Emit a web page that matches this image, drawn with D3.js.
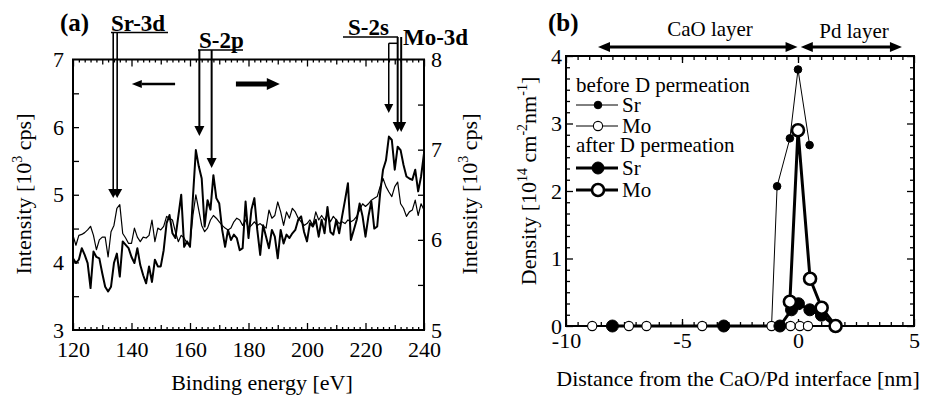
<!DOCTYPE html>
<html>
<head>
<meta charset="utf-8">
<script src="https://cdn.jsdelivr.net/npm/d3@7"></script>
<style>
body { margin: 0; background: #fff; }
svg, svg text { font-family: "Liberation Serif", "Times New Roman", "DejaVu Serif", serif; }
</style>
</head>
<body>
<svg id="chart" width="928" height="396" font-family="Liberation Serif, Times New Roman, DejaVu Serif, serif"></svg>
<script>
// ---- panel (a): XPS spectra, 1 eV steps from 120 eV ----
const energies = d3.range(120, 241, 1);
// bold trace, left axis [10^3 cps]
const spectrumBold = [
  4.06, 3.99, 4.04, 4.21, 4.11, 3.99, 3.62, 4.16, 4.08, 4.06,
  3.84, 3.64, 3.57, 3.64, 3.99, 4.13, 3.79, 4.31, 4.26, 4.21,
  4.08, 3.99, 4.21, 3.96, 3.81, 3.69, 3.94, 3.71, 4.04, 3.94,
  3.94, 4.18, 4.58, 4.70, 4.43, 4.36, 4.68, 5.00, 4.23, 4.31,
  4.23, 4.96, 5.66, 5.42, 5.24, 4.53, 4.92, 4.78, 5.29, 4.95,
  4.87, 4.48, 4.23, 4.48, 4.33, 4.41, 4.36, 4.18, 4.21, 4.90,
  4.36, 4.78, 4.95, 4.48, 4.11, 4.55, 4.38, 4.21, 4.48, 4.38,
  4.06, 4.48, 4.28, 4.41, 4.36, 4.43, 4.48, 4.63, 4.68, 4.45,
  4.31, 4.58, 4.53, 4.63, 4.38, 4.63, 4.43, 4.82, 4.45, 4.41,
  4.63, 4.43, 4.68, 4.92, 5.17, 4.33, 4.48, 4.63, 4.87, 4.68,
  4.38, 4.68, 4.90, 4.50, 4.53, 5.02, 5.37, 5.51, 5.86, 5.81,
  5.37, 5.71, 5.66, 5.44, 5.27, 5.24, 5.22, 5.37, 5.05, 5.27, 5.61
];
// thin trace, right axis [10^3 cps]
const spectrumThin = [
  6.05, 5.94, 6.05, 6.06, 6.08, 6.11, 6.15, 6.05, 5.89, 6.00,
  6.03, 6.03, 5.81, 6.09, 6.16, 6.35, 6.39, 6.07, 6.02, 5.96,
  5.96, 6.13, 6.03, 5.98, 6.03, 6.02, 6.05, 6.22, 5.98, 6.13,
  6.11, 6.15, 6.26, 6.24, 6.22, 6.09, 5.98, 6.05, 6.02, 5.96,
  5.94, 6.27, 6.50, 6.33, 6.16, 6.09, 6.13, 6.22, 6.27, 6.24,
  6.20, 6.16, 6.13, 6.11, 6.13, 6.20, 6.24, 6.22, 6.16, 6.22,
  6.13, 6.16, 6.20, 6.16, 6.18, 6.15, 6.13, 6.33, 6.24, 6.27,
  6.42, 6.31, 6.16, 6.31, 6.24, 6.35, 6.31, 6.24, 6.20, 6.16,
  6.18, 6.22, 6.16, 6.31, 6.22, 6.27, 6.22, 6.29, 6.20, 6.26,
  6.22, 6.18, 6.20, 6.18, 6.22, 6.20, 6.22, 6.26, 6.33, 6.40,
  6.37, 6.40, 6.44, 6.46, 6.48, 6.59, 6.68, 6.59, 6.53, 6.48,
  6.59, 6.64, 6.40, 6.35, 6.26, 6.31, 6.33, 6.44, 6.27, 6.40, 6.33
];
const xTicksA = [120, 140, 160, 180, 200, 220, 240];
const yTicksLeftA = [3, 4, 5, 6, 7];
const yTicksRightA = [5, 6, 7, 8];

// ---- panel (b): density profiles [x nm, density] ----
const srBefore = [[-1.14, 0], [-0.9, 2.07], [-0.35, 2.78], [0, 3.8], [0.5, 2.68]];
const moBefore = [[-8.87, 0], [-7.29, 0], [-6.53, 0], [-4.13, 0], [-1.14, 0], [-0.32, 0], [0.08, 0], [0.43, 0]];
const srAfter = [[-8.0, 0], [-3.2, 0], [-0.78, 0], [-0.28, 0.24], [0.02, 0.33], [0.51, 0.24], [1.01, 0.16], [1.62, 0]];
const moAfter = [[-0.35, 0.36], [0, 2.9], [0.52, 0.7], [1.02, 0.27], [1.62, 0]];
const xTicksB = [-10, -5, 0, 5];
const yTicksB = [0, 1, 2, 3, 4];

const SERIF = '"Liberation Serif", "Times New Roman", "DejaVu Serif", serif';

function translate(x, y) {
    return `translate(${x}, ${y})`;
}

const svg = d3.select('#chart');
const FS = 22;

function head(g, tx, ty, dir, len, half) {
    let pts;
    if (dir === 'down') pts = [[tx, ty], [tx - half, ty - len], [tx + half, ty - len]];
    else if (dir === 'left') pts = [[tx, ty], [tx + len, ty - half], [tx + len, ty + half]];
    else pts = [[tx, ty], [tx - len, ty - half], [tx - len, ty + half]];
    g.append('path').attr('d', d3.line()(pts) + 'Z').attr('fill', '#000');
}

function seg(g, x1, y1, x2, y2, w) {
    g.append('line').attr('x1', x1).attr('y1', y1).attr('x2', x2).attr('y2', y2)
        .attr('stroke', '#000').attr('stroke-width', w);
}

function clean(sel) {
    sel.attr('font-family', SERIF);
    sel.select('.domain').remove();
    sel.selectAll('line').attr('stroke', '#000').attr('stroke-width', 1.3);
    sel.selectAll('text').attr('font-size', FS).attr('fill', '#000');
    return sel;
}

function label(g, x, y, txt, size, anchor) {
    return g.append('text').attr('x', x).attr('y', y).attr('font-size', size)
        .attr('font-family', SERIF).attr('text-anchor', anchor || 'start').text(txt);
}

const fmt = d => String(d);

// ================= panel (a) =================
const A = { left: 73, right: 424, top: 59.5, bottom: 330 };
const xa = d3.scaleLinear().domain([120, 240]).range([A.left, A.right]);
const yaL = d3.scaleLinear().domain([3, 7]).range([A.bottom, A.top]);
const yaR = d3.scaleLinear().domain([5, 8]).range([A.bottom, A.top]);

const ga = svg.append('g');

// minor ticks
const minorX = d3.range(122, 240, 2).filter(v => v % 10 !== 0);
const midX = d3.range(130, 240, 20);
[[minorX, 3], [midX, 5]].forEach(([vals, s]) => {
    clean(ga.append('g').attr('transform', translate(0, A.bottom))
        .call(d3.axisBottom(xa).tickValues(vals).tickSize(-s).tickSizeOuter(0).tickFormat('')));
    clean(ga.append('g').attr('transform', translate(0, A.top))
        .call(d3.axisTop(xa).tickValues(vals).tickSize(-s).tickSizeOuter(0).tickFormat('')));
});
clean(ga.append('g').attr('transform', translate(0, A.bottom))
    .call(d3.axisBottom(xa).tickValues(xTicksA).tickSize(-7).tickSizeOuter(0).tickPadding(11).tickFormat(fmt)));
clean(ga.append('g').attr('transform', translate(0, A.top))
    .call(d3.axisTop(xa).tickValues(xTicksA).tickSize(-7).tickSizeOuter(0).tickFormat('')));
clean(ga.append('g').attr('transform', translate(A.left, 0))
    .call(d3.axisLeft(yaL).tickValues(d3.range(3.5, 7, 0.5)).tickSize(-6).tickSizeOuter(0).tickFormat('')));
clean(ga.append('g').attr('transform', translate(A.left, 0))
    .call(d3.axisLeft(yaL).tickValues(yTicksLeftA).tickSize(0).tickPadding(9).tickFormat(fmt)));
clean(ga.append('g').attr('transform', translate(A.right, 0))
    .call(d3.axisRight(yaR).tickValues(d3.range(5.5, 8, 0.5)).tickSize(-6).tickSizeOuter(0).tickFormat('')));
clean(ga.append('g').attr('transform', translate(A.right, 0))
    .call(d3.axisRight(yaR).tickValues(yTicksRightA).tickSize(0).tickPadding(7).tickFormat(fmt)))
    .selectAll('text').attr('text-anchor', 'start');

// spectra
ga.append('path').datum(spectrumThin)
    .attr('d', d3.line().x((d, i) => xa(energies[i])).y(d => yaR(d)))
    .attr('fill', 'none').attr('stroke', '#000').attr('stroke-width', 1.2).attr('stroke-linejoin', 'round');
ga.append('path').datum(spectrumBold)
    .attr('d', d3.line().x((d, i) => xa(energies[i])).y(d => yaL(d)))
    .attr('fill', 'none').attr('stroke', '#000').attr('stroke-width', 2).attr('stroke-linejoin', 'round');

ga.append('rect').attr('x', A.left).attr('y', A.top)
    .attr('width', A.right - A.left).attr('height', A.bottom - A.top)
    .attr('fill', 'none').attr('stroke', '#000').attr('stroke-width', 2);

// axis titles
label(ga, 262, 390, 'Binding energy [eV]', FS, 'middle');
function intensityLabel(x, y) {
    const t = ga.append('text').attr('transform', translate(x, y) + ' rotate(-90)')
        .attr('text-anchor', 'middle').attr('font-size', FS).attr('font-family', SERIF);
    t.append('tspan').text('Intensity [10');
    t.append('tspan').attr('dy', -9).attr('font-size', 14).text('3');
    t.append('tspan').attr('dy', 9).text(' cps]');
}
intensityLabel(31, 194);
intensityLabel(477, 194);

label(ga, 60, 31, '(a)', 25).attr('font-weight', 'bold');

// peak annotations
function peakLabel(txt, x, y, ux1, ux2) {
    label(ga, x, y, txt, 23).attr('font-weight', 'bold');
    seg(ga, ux1, y + 2, ux2, y + 2, 1.5);
}
peakLabel('Sr-3d', 111, 30.5, 111, 168);
[133.75, 135.1].forEach(e => {
    seg(ga, xa(e), 32.5, xa(e), 191, 1.6);
    head(ga, xa(e), 198, 'down', 9, 5);
});
peakLabel('S-2p', 199, 48, 198, 243);
seg(ga, xa(163.2), 50, xa(163.2), 128, 2);
head(ga, xa(163.2), 136, 'down', 10, 5);
seg(ga, xa(167.4), 50, xa(167.4), 160, 2);
head(ga, xa(167.4), 168, 'down', 10, 5);
peakLabel('S-2s', 348, 35, 343, 398);
seg(ga, xa(227.95), 43.3, 398, 43.3, 1.5);
seg(ga, xa(227.95), 43.3, xa(227.95), 106, 1.5);
head(ga, xa(227.95), 113, 'down', 9, 4.5);
label(ga, 403, 44.5, 'Mo-3d', 23).attr('font-weight', 'bold');
[231.0, 232.2].forEach(e => {
    seg(ga, xa(e), 37, xa(e), 124, 2);
    head(ga, xa(e), 132, 'down', 10, 5);
});
// direction arrows
seg(ga, xa(154.9), 84, xa(143.5), 84, 2.5);
head(ga, xa(140.1), 84, 'left', 10, 4);
seg(ga, xa(175.7), 84, xa(187), 84, 5);
head(ga, xa(190.7), 84, 'right', 13, 6);

// ================= panel (b) =================
const B = { left: 566, right: 914, top: 56, bottom: 326 };
const xb = d3.scaleLinear().domain([-10, 5]).range([B.left, B.right]);
const yb = d3.scaleLinear().domain([0, 4]).range([B.bottom, B.top]);
const gb = svg.append('g');

const minorXB = d3.range(-9.5, 5, 0.5);
const minorYB = d3.range(1, 24).map(i => i / 6).filter(v => Math.abs(v - Math.round(v)) > 1e-6);
clean(gb.append('g').attr('transform', translate(0, B.bottom))
    .call(d3.axisBottom(xb).tickValues(minorXB).tickSize(-4).tickSizeOuter(0).tickFormat('')));
clean(gb.append('g').attr('transform', translate(0, B.top))
    .call(d3.axisTop(xb).tickValues(minorXB).tickSize(-4).tickSizeOuter(0).tickFormat('')));
clean(gb.append('g').attr('transform', translate(0, B.bottom))
    .call(d3.axisBottom(xb).tickValues(xTicksB).tickSize(-7).tickSizeOuter(0).tickPadding(6).tickFormat(fmt)));
clean(gb.append('g').attr('transform', translate(0, B.top))
    .call(d3.axisTop(xb).tickValues(xTicksB).tickSize(-7).tickSizeOuter(0).tickFormat('')));
clean(gb.append('g').attr('transform', translate(B.left, 0))
    .call(d3.axisLeft(yb).tickValues(minorYB).tickSize(-4).tickSizeOuter(0).tickFormat('')));
clean(gb.append('g').attr('transform', translate(B.right, 0))
    .call(d3.axisRight(yb).tickValues(minorYB).tickSize(-4).tickSizeOuter(0).tickFormat('')));
clean(gb.append('g').attr('transform', translate(B.left, 0))
    .call(d3.axisLeft(yb).tickValues(yTicksB).tickSize(-7).tickSizeOuter(0).tickPadding(4).tickFormat(fmt)));
clean(gb.append('g').attr('transform', translate(B.right, 0))
    .call(d3.axisRight(yb).tickValues(yTicksB).tickSize(-7).tickSizeOuter(0).tickFormat('')));

const lineB = d3.line().x(d => xb(d[0])).y(d => yb(d[1]));
const series = [
    { data: srBefore, w: 1, r: 3.8, fill: '#000', sw: 1 },
    { data: moBefore, w: 1, r: 4.6, fill: '#fff', sw: 1.1 },
    { data: srAfter, w: 3, r: 6, fill: '#000', sw: 1 },
    { data: moAfter, w: 3, r: 6, fill: '#fff', sw: 2.6 }
];
series.forEach(s => {
    gb.append('path').datum(s.data).attr('d', lineB)
        .attr('fill', 'none').attr('stroke', '#000').attr('stroke-width', s.w).attr('stroke-linejoin', 'round');
});
gb.append('rect').attr('x', B.left).attr('y', B.top)
    .attr('width', B.right - B.left).attr('height', B.bottom - B.top)
    .attr('fill', 'none').attr('stroke', '#000').attr('stroke-width', 2);
series.forEach(s => {
    gb.append('g').selectAll('circle').data(s.data).enter().append('circle')
        .attr('cx', d => xb(d[0])).attr('cy', d => yb(d[1])).attr('r', s.r)
        .attr('fill', s.fill).attr('stroke', '#000').attr('stroke-width', s.sw);
});

// legend
const legend = gb.append('g');
label(legend, 576, 92, 'before D permeation', 21);
label(legend, 576, 152, 'after D permeation', 21);
const legendRows = [
    { label: 'Sr', y: 105, s: series[0] },
    { label: 'Mo', y: 126, s: series[1] },
    { label: 'Sr', y: 168, s: series[2] },
    { label: 'Mo', y: 190, s: series[3] }
];
legendRows.forEach(d => {
    seg(legend, 576, d.y, 618, d.y, d.s.w);
    legend.append('circle').attr('cx', 598).attr('cy', d.y).attr('r', d.s.r)
        .attr('fill', d.s.fill).attr('stroke', '#000').attr('stroke-width', d.s.sw);
    label(legend, 622, d.y + 7, d.label, 21);
});

// layer arrows
function doubleArrow(g, x1, x2, y) {
    seg(g, x1 + 10, y, x2 - 10, y, 3);
    head(g, x1, y, 'left', 12, 5);
    head(g, x2, y, 'right', 12, 5);
}
doubleArrow(gb, xb(-8.62), xb(-0.02), 47);
doubleArrow(gb, xb(0.12), xb(4.48), 47);
label(gb, 710, 36, 'CaO layer', 21, 'middle');
label(gb, 854, 38, 'Pd layer', 21, 'middle');

label(gb, 548, 31, '(b)', 25).attr('font-weight', 'bold');

label(gb, 738, 386, 'Distance from the CaO/Pd interface [nm]', FS, 'middle');
const dl = gb.append('text').attr('transform', translate(536, 181) + ' rotate(-90)')
    .attr('text-anchor', 'middle').attr('font-size', FS).attr('font-family', SERIF);
dl.append('tspan').text('Density [10');
dl.append('tspan').attr('dy', -9).attr('font-size', 14).text('14');
dl.append('tspan').attr('dy', 9).text(' cm');
dl.append('tspan').attr('dy', -9).attr('font-size', 14).text('-2');
dl.append('tspan').attr('dy', 9).text('nm');
dl.append('tspan').attr('dy', -9).attr('font-size', 14).text('-1');
dl.append('tspan').attr('dy', 9).text(']');
</script>
</body>
</html>
